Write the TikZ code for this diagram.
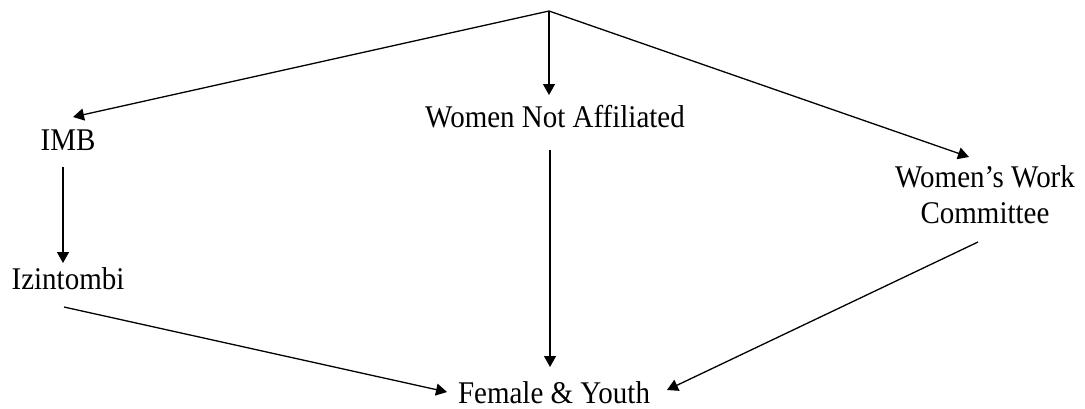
\documentclass[tikz,border=0pt]{standalone}
\usepackage{fontspec}
\setmainfont{Liberation Serif}
\usetikzlibrary{arrows.meta}
\newcommand\vstretch[1]{\scalebox{1.01}[1.1]{#1}}
\begin{document}
\begin{tikzpicture}[x=0.5pt,y=-0.5pt,
  lbl/.style={anchor=base,inner sep=0pt,font=\fontsize{14.35pt}{18pt}\selectfont},
  conn/.style={line width=0.65pt,-{Triangle[length=5.5pt,width=6pt]}}]
\useasboundingbox (0,0) rectangle (1085,408);
\coordinate (apex) at (549,11);
\node[lbl] (imb) at (68,150) {\vstretch{IMB}};
\node[lbl] (wna) at (555,127) {\vstretch{Women Not Affiliated}};
\node[lbl] (wwc) at (985,187) {\vstretch{Women’s Work}};
\node[lbl] (wwc2) at (985,223) {\vstretch{Committee}};
\node[lbl] (izi) at (68,289) {\vstretch{Izintombi}};
\node[lbl] (fy) at (554,403) {\vstretch{Female \& Youth}};
\draw[conn] (apex) -- ([shift={(5,-33)}]imb.base);
\draw[conn] (apex) -- ([shift={(-6,-32)}]wna.base);
\draw[conn] (apex) -- ([shift={(-16,-30)}]wwc.base);
\draw[conn] ([shift={(-5,17)}]imb.base) -- ([shift={(-5,-26)}]izi.base);
\draw[conn] ([shift={(-5,23)}]wna.base) -- ([shift={(-4,-36)}]fy.base);
\draw[conn] ([shift={(-4,18)}]izi.base) -- ([shift={(-107,-11)}]fy.base);
\draw[conn] ([shift={(-7,19)}]wwc2.base) -- ([shift={(113,-13)}]fy.base);
\end{tikzpicture}
\end{document}
